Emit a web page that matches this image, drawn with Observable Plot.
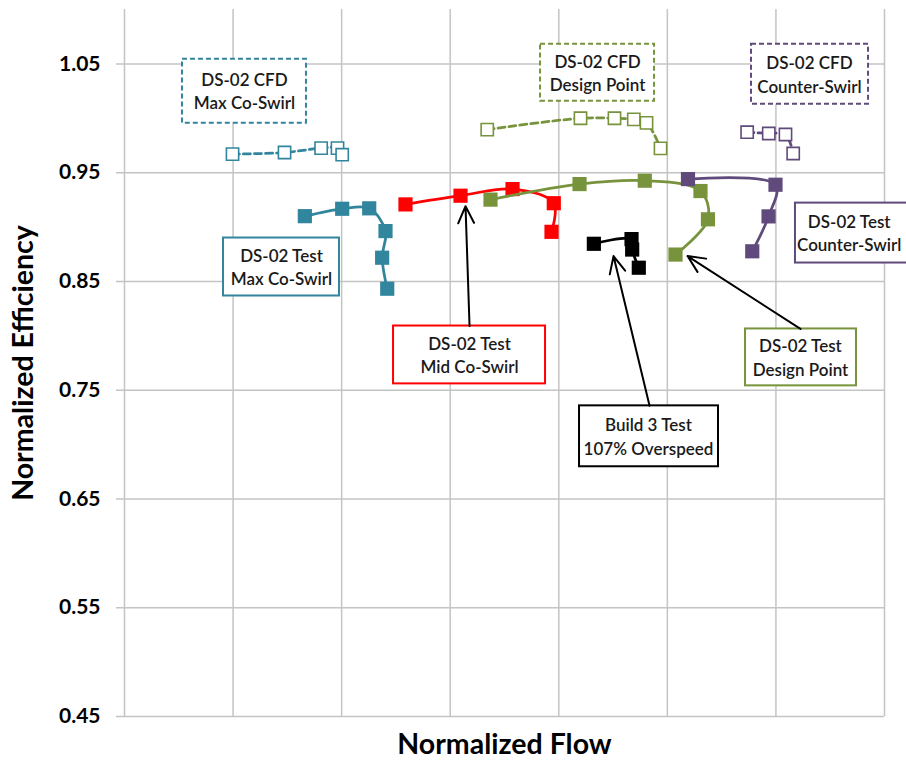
<!DOCTYPE html>
<html><head><meta charset="utf-8">
<script src="https://cdn.jsdelivr.net/npm/d3@7"></script>
<script src="https://cdn.jsdelivr.net/npm/@observablehq/plot@0.6"></script>
<style>html,body{margin:0;padding:0;background:#fff;overflow:hidden}</style>
</head><body><div id="chart"></div>
<script>
// Axis ticks (flow has no labels; gridlines only)
const flowGrid = [0, 1, 2, 3, 4, 5, 6, 7];
const effTicks = [0.45, 0.55, 0.65, 0.75, 0.85, 0.95, 1.05];

// CFD series (open squares, dashed)
const cfdMaxFlow = [0.995, 1.474, 1.811, 1.962, 2.005];
const cfdMaxEff  = [0.967, 0.9685, 0.9725, 0.9725, 0.9665];
const cfdDesignFlow = [3.341, 4.200, 4.513, 4.691, 4.808, 4.937];
const cfdDesignEff  = [0.9896, 1.0000, 1.0000, 0.999, 0.9958, 0.9723];
const cfdCounterFlow = [5.735, 5.934, 6.088, 6.159];
const cfdCounterEff  = [0.9872, 0.986, 0.9851, 0.9676];

// Test series (filled squares, solid)
const testMaxFlow = [1.661, 2.005, 2.254, 2.404, 2.373, 2.420];
const testMaxEff  = [0.910, 0.9168, 0.9172, 0.8963, 0.8718, 0.8433];
const testMidFlow = [2.588, 3.095, 3.574, 3.954, 3.933];
const testMidEff  = [0.9208, 0.9288, 0.9349, 0.9219, 0.8956];
const testDesignFlow = [3.371, 4.191, 4.792, 5.305, 5.374, 5.075];
const testDesignEff  = [0.9252, 0.9395, 0.9426, 0.9331, 0.9071, 0.8747];
const testCounterFlow = [5.190, 5.996, 5.932, 5.782];
const testCounterEff  = [0.9441, 0.9389, 0.9098, 0.8777];
const build3Flow = [4.323, 4.670, 4.676, 4.737];
const build3Eff  = [0.8846, 0.8889, 0.8793, 0.8626];

const teal = "#31859c", red = "#ff0000", green = "#77933c", purple = "#604a7b", black = "#000000";

const cfdSeries = [
  {flow: cfdMaxFlow, eff: cfdMaxEff, color: teal},
  {flow: cfdDesignFlow, eff: cfdDesignEff, color: green},
  {flow: cfdCounterFlow, eff: cfdCounterEff, color: purple}
];
const testSeries = [
  {flow: testMaxFlow, eff: testMaxEff, color: teal},
  {flow: testMidFlow, eff: testMidEff, color: red},
  {flow: testDesignFlow, eff: testDesignEff, color: green},
  {flow: testCounterFlow, eff: testCounterEff, color: purple},
  {flow: build3Flow, eff: build3Eff, color: black}
];

// Annotation boxes (data coordinates)
const boxLabels = ["DS-02 CFD\nMax Co-Swirl", "DS-02 CFD\nDesign Point", "DS-02 CFD\nCounter-Swirl",
  "DS-02 Test\nMax Co-Swirl", "DS-02 Test\nCounter-Swirl", "DS-02 Test\nMid Co-Swirl",
  "Build 3 Test\n107% Overspeed", "DS-02 Test\nDesign Point"];
const boxX1 = [0.534, 3.832, 5.775, 0.912, 6.180, 2.478, 4.191, 5.720];
const boxX2 = [1.676, 4.882, 6.853, 1.980, 7.285, 3.878, 5.471, 6.742];
const boxY1 = [0.9955, 1.0157, 1.0129, 0.8366, 0.8669, 0.7558, 0.6796, 0.7540];
const boxY2 = [1.0542, 1.0680, 1.0680, 0.8899, 0.9220, 0.8090, 0.7356, 0.8063];
const boxTextX = [1.105, 4.357, 6.309, 1.446, 6.675, 3.178, 4.826, 6.226];
const boxColors = [teal, green, purple, teal, purple, red, black, green];
const boxDashed = [true, true, true, false, false, false, false, false];

// Arrows
const arrowX1 = [3.178, 4.836, 6.226];
const arrowY1 = [0.8090, 0.7356, 0.8063];
const arrowX2 = [3.141, 4.504, 5.186];
const arrowY2 = [0.9192, 0.8733, 0.8733];

const font = "Lato, 'Open Sans', sans-serif";

const rows = s => s.flow.map((f, i) => ({flow: f, eff: s.eff[i]}));
const boxes = boxLabels.map((t, i) => ({label: t, x1: boxX1[i], x2: boxX2[i], y1: boxY1[i], y2: boxY2[i],
  tx: boxTextX[i], ty: (boxY1[i] + boxY2[i]) / 2, color: boxColors[i], dashed: boxDashed[i]}));
const arrows = arrowX1.map((x, i) => ({x1: x, y1: arrowY1[i], x2: arrowX2[i], y2: arrowY2[i]}));

const gridColor = "#c4c4c4";
const marks = [
  Plot.ruleX(flowGrid, {x: d => d, stroke: gridColor, strokeWidth: 1.5}),
  Plot.ruleY(effTicks, {y: d => d, x1: -0.0737, x2: 7, stroke: gridColor, strokeWidth: 1.5}),
  Plot.axisY(effTicks, {tickSize: 0, tickPadding: 24, tickFormat: d3.format(".2f"), fontSize: 21,
    fontWeight: "bold", fontFamily: font, fill: "#000", label: null}),
  Plot.text(["Normalized Efficiency"], {frameAnchor: "left", textAnchor: "middle", dx: -101, rotate: -90,
    fontSize: 28.5, fontWeight: "bold", fontFamily: font, fill: "#000"}),
  Plot.text(["Normalized Flow"], {frameAnchor: "bottom", dy: 37, fontSize: 28.5,
    fontWeight: "bold", fontFamily: font, fill: "#000"})
];

for (const b of boxes) {
  marks.push(Plot.rect([b], {x1: "x1", x2: "x2", y1: "y1", y2: "y2", fill: "white", stroke: b.color,
    strokeWidth: 2, strokeDasharray: b.dashed ? "5,3" : null}));
  marks.push(Plot.text([b], {x: "tx", y: "ty", text: "label", lineHeight: 1.38, fontSize: 17,
    fontWeight: 600, fontFamily: font, fill: "#1a1a1a", dy: -1}));
}
marks.push(Plot.arrow(arrows, {x1: "x1", y1: "y1", x2: "x2", y2: "y2", stroke: "black",
  strokeWidth: 2, headLength: 14, headAngle: 50}));

for (const s of cfdSeries) {
  marks.push(Plot.line(rows(s), {x: "flow", y: "eff", stroke: s.color, strokeWidth: 2.75,
    strokeDasharray: "7,4", curve: "catmull-rom"}));
  marks.push(Plot.dot(rows(s), {x: "flow", y: "eff", symbol: "square", r: 6.9, fill: "white",
    stroke: s.color, strokeWidth: 1.6}));
}
for (const s of testSeries) {
  marks.push(Plot.line(rows(s), {x: "flow", y: "eff", stroke: s.color, strokeWidth: 2.75,
    curve: "catmull-rom"}));
  marks.push(Plot.dot(rows(s), {x: "flow", y: "eff", symbol: "square", r: 8, fill: s.color,
    stroke: "none"}));
}

const chart = Plot.plot({
  width: 906,
  height: 765,
  marginLeft: 124,
  marginRight: 22,
  marginTop: 9,
  marginBottom: 49,
  style: {background: "white", overflow: "hidden"},
  x: {domain: [0, 7], axis: null},
  y: {domain: [0.45, 1.10], axis: null},
  marks
});
document.getElementById("chart").appendChild(chart);
</script>
</body></html>
